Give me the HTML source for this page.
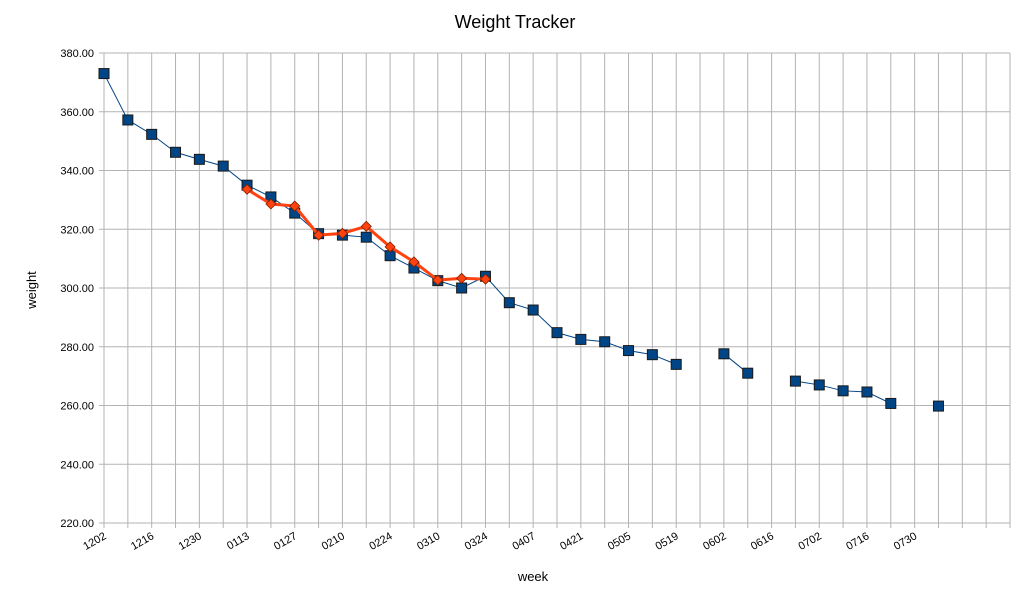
<!DOCTYPE html>
<html><head><meta charset="utf-8"><style>
body{margin:0;background:#fff;}
svg{display:block;font-family:"Liberation Sans",sans-serif;}
</style></head><body>
<svg id="chart" width="1031" height="596" viewBox="0 0 1031 596">
<text x="515" y="28" font-size="18" text-anchor="middle">Weight Tracker</text>
<text x="36" y="290" font-size="13" text-anchor="middle" transform="rotate(-90 36 290)">weight</text>
<text x="533" y="581" font-size="13" text-anchor="middle">week</text>
<g id="grid"></g><g id="axes"></g><g id="series"></g>
</svg>
<script>
const weekLabels=["1202","","1216","","1230","","0113","","0127","","0210","","0224","","0310","","0324","","0407","","0421","","0505","","0519","","0602","","0616","","0702","","0716","","0730","","","",""];
const weightValues=[373,357.2,352.3,346.2,343.8,341.5,335,331,325.5,318.5,318,317.3,311,306.8,302.5,300,304,295,292.5,284.8,282.5,281.7,278.7,277.3,274,null,277.6,271,null,268.3,267,265,264.6,260.7,null,259.8];
const trendValues=[null,null,null,null,null,null,333.6,328.6,327.9,318.0,318.6,321.0,314.0,308.9,302.7,303.3,303.0];
const yTicks=[220,240,260,280,300,320,340,360,380];
const NS="http://www.w3.org/2000/svg";
const X0=104,X1=1010,Y0=523,Y1=53,N=weekLabels.length;
const xs=i=>X0+i*(X1-X0)/(N-1);
const ys=v=>Y0-(v-220)*(Y0-Y1)/160;
function mk(t,a,p){const e=document.createElementNS(NS,t);for(const k in a)e.setAttribute(k,a[k]);p.appendChild(e);return e;}
const grid=document.getElementById('grid'),axes=document.getElementById('axes'),ser=document.getElementById('series');
yTicks.forEach(v=>{
 const l=mk('line',{x1:X0-5,x2:X1,y1:ys(v),y2:ys(v),stroke:'#b3b3b3'},grid);
 
 
 const t=mk('text',{x:X0-10,y:ys(v)+4,'font-size':11,'text-anchor':'end'},axes);t.textContent=v.toFixed(2);
 
 
});
weekLabels.forEach((lab,i)=>{
 const l=mk('line',{x1:xs(i),x2:xs(i),y1:Y1,y2:Y0+5,stroke:'#b3b3b3'},grid);
 
 
 if(lab){const x=xs(i)+3,y=Y0+15;
  const t=mk('text',{x:x,y:y,'font-size':11,'text-anchor':'end',transform:`rotate(-30 ${x} ${y})`},axes);t.textContent=lab;
  
  }
});
function path(vals){let d='',pen=false;vals.forEach((v,i)=>{if(v==null){pen=false;return;}d+=(pen?'L':'M')+xs(i)+' '+ys(v)+' ';pen=true;});return d;}
const bl=mk('path',{d:path(weightValues),fill:'none',stroke:'#004586','stroke-width':1},ser);


weightValues.forEach((v,i)=>{if(v==null)return;
 const r=mk('rect',{x:xs(i)-5,y:ys(v)-5,width:10,height:10,fill:'#004586',stroke:'#1a1a1a','stroke-width':1},ser);
 
 });
const ol=mk('path',{d:path(trendValues),fill:'none',stroke:'#ff420e','stroke-width':3,'stroke-linejoin':'round'},ser);


trendValues.forEach((v,i)=>{if(v==null)return;const x=xs(i),y=ys(v);
 const p=mk('polygon',{points:`${x},${y-5} ${x+5},${y} ${x},${y+5} ${x-5},${y}`,fill:'#ff420e',stroke:'#7a2000','stroke-width':0.8},ser);
 
 });
</script>
</body></html>
